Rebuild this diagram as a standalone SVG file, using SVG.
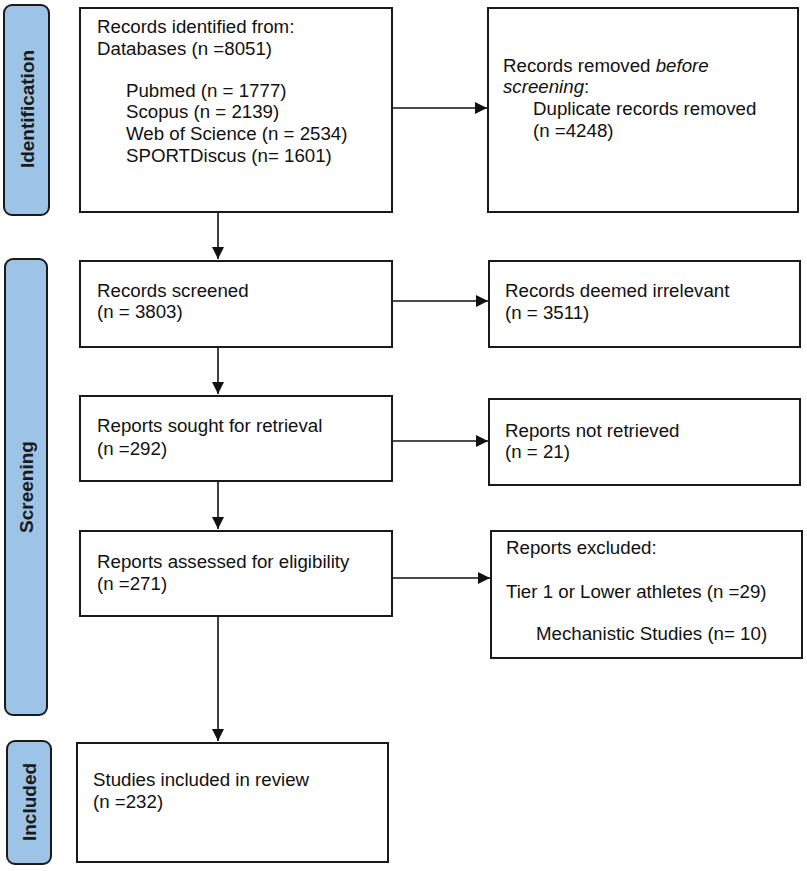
<svg xmlns="http://www.w3.org/2000/svg" width="807" height="871" viewBox="0 0 807 871">
<style>
.box{fill:#fff;stroke:#1a1a1a;stroke-width:2}
.bar{fill:#9dc3e6;stroke:#1a1a1a;stroke-width:2}
.t{font-family:"Liberation Sans",Arial,sans-serif;font-size:18.7px;fill:#111}
.bl{font-family:"Liberation Sans",Arial,sans-serif;font-size:19px;font-weight:bold;fill:#1a1a1a;text-anchor:middle;dominant-baseline:central}
.c{stroke:#111;stroke-width:1.6;fill:none;marker-end:url(#ah)}
</style>
<defs>
<marker id="ah" markerUnits="userSpaceOnUse" markerWidth="13" markerHeight="13" refX="12" refY="6" orient="auto">
<path d="M0,0 L12,6 L0,12 z" fill="#111"/>
</marker>
</defs>
<rect width="807" height="871" fill="#fff"/>
<g id="bar-identification">
<rect class="bar" x="4" y="5" width="45" height="210" rx="8"/>
<text class="bl" transform="translate(27,109) rotate(-90)">Identification</text>
</g>
<g id="bar-screening">
<rect class="bar" x="5" y="259" width="42" height="456" rx="8"/>
<text class="bl" transform="translate(26,487) rotate(-90)">Screening</text>
</g>
<g id="bar-included">
<rect class="bar" x="7" y="741" width="44" height="123" rx="8"/>
<text class="bl" transform="translate(29,802) rotate(-90)">Included</text>
</g>
<g id="connectors">
<line class="c" x1="392" y1="108" x2="487" y2="108"/>
<line class="c" x1="392" y1="301" x2="488" y2="301"/>
<line class="c" x1="392" y1="441" x2="488" y2="441"/>
<line class="c" x1="392" y1="578" x2="490" y2="578"/>
<line class="c" x1="218" y1="212" x2="218" y2="259"/>
<line class="c" x1="218" y1="347" x2="218" y2="394"/>
<line class="c" x1="218" y1="481" x2="218" y2="529"/>
<line class="c" x1="218" y1="616" x2="218" y2="741"/>
</g>
<g id="records-identified">
<rect class="box" x="80" y="8" width="312" height="204"/>
<text class="t" x="97" y="33">Records identified from:</text>
<text class="t" x="97" y="55">Databases (n =8051)</text>
<text class="t" x="126" y="97">Pubmed (n = 1777)</text>
<text class="t" x="126" y="118">Scopus (n = 2139)</text>
<text class="t" x="126" y="140">Web of Science (n = 2534)</text>
<text class="t" x="126" y="162">SPORTDiscus (n= 1601)</text>
</g>
<g id="records-removed">
<rect class="box" x="488" y="8" width="310" height="204"/>
<text class="t" x="503" y="72">Records removed <tspan font-style="italic">before</tspan></text>
<text class="t" x="503" y="93"><tspan font-style="italic">screening</tspan>:</text>
<text class="t" x="533" y="115">Duplicate records removed</text>
<text class="t" x="533" y="137">(n =4248)</text>
</g>
<g id="records-screened">
<rect class="box" x="80" y="261" width="312" height="86"/>
<text class="t" x="97" y="297">Records screened</text>
<text class="t" x="97" y="318">(n = 3803)</text>
</g>
<g id="records-irrelevant">
<rect class="box" x="489" y="261" width="311" height="86"/>
<text class="t" x="505" y="297">Records deemed irrelevant</text>
<text class="t" x="505" y="319">(n = 3511)</text>
</g>
<g id="reports-sought">
<rect class="box" x="80" y="396" width="312" height="85"/>
<text class="t" x="97" y="432">Reports sought for retrieval</text>
<text class="t" x="97" y="455">(n =292)</text>
</g>
<g id="reports-not-retrieved">
<rect class="box" x="489" y="399" width="311" height="86"/>
<text class="t" x="505" y="437">Reports not retrieved</text>
<text class="t" x="505" y="458">(n = 21)</text>
</g>
<g id="reports-assessed">
<rect class="box" x="80" y="531" width="312" height="85"/>
<text class="t" x="97" y="568">Reports assessed for eligibility</text>
<text class="t" x="97" y="590">(n =271)</text>
</g>
<g id="reports-excluded">
<rect class="box" x="491" y="531" width="311" height="127"/>
<text class="t" x="506" y="554">Reports excluded:</text>
<text class="t" x="506" y="598">Tier 1 or Lower athletes (n =29)</text>
<text class="t" x="536" y="640">Mechanistic Studies (n= 10)</text>
</g>
<g id="studies-included">
<rect class="box" x="77" y="743" width="311" height="119"/>
<text class="t" x="93" y="786">Studies included in review</text>
<text class="t" x="93" y="808">(n =232)</text>
</g>
</svg>
